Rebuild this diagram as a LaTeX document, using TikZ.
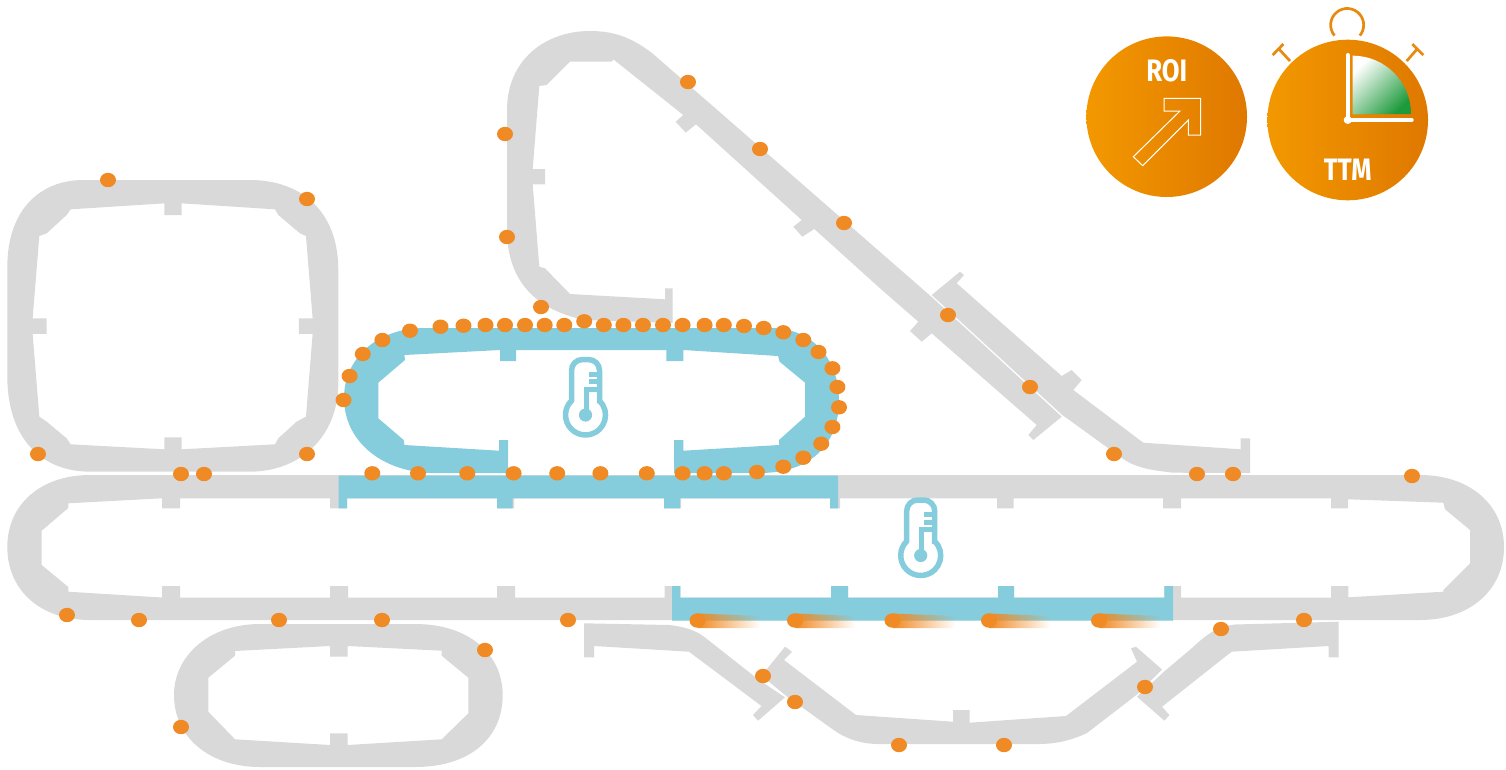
\documentclass[tikz,border=0pt]{standalone}
\usepackage{fontspec}
\setmainfont{Fira Sans}
\usetikzlibrary{fadings}
\definecolor{trackgray}{HTML}{D9D9D9}
\definecolor{heatblue}{HTML}{85CDDC}
\definecolor{dotorange}{HTML}{F08A24}
\definecolor{iconA}{HTML}{F39800}
\definecolor{iconB}{HTML}{DF7800}
\definecolor{iconLine}{HTML}{E98A10}
\definecolor{iconGreen}{HTML}{1E9A3C}
\tikzfading[name=cometfade,left color=transparent!0,middle color=transparent!35,right color=transparent!100]
\tikzset{
  track/.style={fill=trackgray,even odd rule,draw=none},
  heat/.style={fill=heatblue,even odd rule,draw=none},
  icontext/.style={text=white,font=\bfseries\fontsize{31}{31}\selectfont,inner sep=0pt,transform shape,xscale=.83},
  thermo/.pic={
    \draw[heatblue,line width=5.5pt]
      (14,-14.3) -- (14,-44.5) arc[start angle=0,end angle=90,radius=11pt] -- (-3,-55.5)
      arc[start angle=90,end angle=180,radius=11pt] -- (-14,-14.3)
      arc[start angle=134.5,delta angle=271,radius=20pt] -- cycle;
    \fill[heatblue] (0,0) circle[radius=6.6pt];
    \fill[heatblue] (-1.5,-28) rectangle (3,0);
    \fill[heatblue] (3,-43.5) rectangle (14,-38.5);
    \fill[heatblue] (3,-36) rectangle (14,-31);
    \fill[heatblue] (-1.5,-28.5) rectangle (14,-23.5);
  }
}
\newcommand{\dotat}[1]{\fill[dotorange] (#1) ellipse[x radius=8pt,y radius=7.2pt];}
\begin{document}
\begin{tikzpicture}[x=1pt,y=-1pt]
\useasboundingbox (0,0) rectangle (1506,769);
% square loop
\begin{scope}[shift={(0,170)},x=.3333pt,y=-.3333pt]
\fill[track] (250,30) -- (750,30) .. controls (900,30) and (1015,120) .. (1015,300) -- (1015,640)
  .. controls (1015,800) and (900,905) .. (750,905) -- (270,905)
  .. controls (120,905) and (22,800) .. (22,620) -- (22,290)
  .. controls (22,120) and (120,30) .. (250,30) -- cycle
  (212,118) -- (493,100) -- (493,135) -- (545,135) -- (545,100) -- (825,118) -- (835,135) -- (900,190) -- (918,198)
  -- (938,445) -- (897,445) -- (897,492) -- (938,492) -- (918,740) -- (890,755) -- (835,805) -- (825,823)
  -- (545,838) -- (545,802) -- (493,802) -- (493,838) -- (212,823) -- (200,805) -- (140,755) -- (118,740)
  -- (98,492) -- (140,492) -- (140,445) -- (98,445) -- (118,198) -- (140,190) -- (200,135) -- cycle;
\end{scope}
% upper track, long diagonal
\fill[track] (652,53) -- (931.7,297) -- (1061.7,416.7) -- (1033.3,440) -- (1028.3,435) -- (1036.7,425)
  -- (931.7,333.3) -- (921.7,341.7) -- (910,331) -- (918.3,321.7) -- (880,288.3) -- (814.3,229)
  -- (802.3,236.7) -- (793.3,226.7) -- (801.7,220) -- (696,124.3) -- (685.7,132.7) -- (675.7,121.7)
  -- (683.3,115) -- (613.3,59.3) -- (611.7,61.7) -- (570,61.7) -- (546.7,85) -- (539.3,86)
  -- (532.7,169) -- (545,169) -- (545,184.3) -- (532.7,184.3) -- (539.3,266.7) -- (545,268.3)
  -- (570,294) -- (665,299.3) -- (665,288.3) -- (672.7,288.3) -- (672.7,323) -- (585,320)
  .. controls (535,310) and (507,280) .. (507,230) -- (507,110)
  .. controls (507,60) and (545,31) .. (590,31) .. controls (615,31) and (632,38) .. (652,53) -- cycle;
% upper track, branch
\fill[track] (931.7,295) -- (960,271.7) -- (964,275) -- (956.7,283.3) -- (1061.7,376) -- (1071.7,370)
  -- (1081.7,380) -- (1073.3,390) -- (1143.3,442.7) -- (1240.7,449.3) -- (1240.7,438.3) -- (1250,438.3)
  -- (1250,473) -- (1173.3,472.7) .. controls (1150,470) and (1135,468) .. (1120,456.7)
  -- (1061.7,414.5) -- cycle;
% main loop
\fill[track] (90,475) -- (1420,475) .. controls (1470,475) and (1504,505) .. (1504,547)
  .. controls (1504,590) and (1470,620) .. (1420,620) -- (90,620)
  .. controls (40,620) and (7.3,590) .. (7.3,547) .. controls (7.3,505) and (40,475) .. (90,475) -- cycle
  (68.3,503.3) -- (162,498.3) -- (162,508.3) -- (180,508.3) -- (180,498.3) -- (330,498.3) -- (330,508.3) -- (347,508.3) -- (347,498.3)
  -- (497,498.3) -- (497,508.3) -- (514,508.3) -- (514,498.3) -- (664,498.3) -- (664,508.3) -- (681,508.3) -- (681,498.3)
  -- (830,498.3) -- (830,508.3) -- (840,508.3) -- (840,498.3) -- (997,498.3) -- (997,508.3) -- (1013.5,508.3) -- (1013.5,498.3)
  -- (1163,498.3) -- (1163,508.3) -- (1181,508.3) -- (1181,498.3) -- (1331,498.3) -- (1331,508.3) -- (1348,508.3) -- (1348,499.3)
  -- (1443.3,502.7) -- (1445,509.3) -- (1470,530) -- (1470,563.3) -- (1443.3,590) -- (1443.3,591.7)
  -- (1348.3,597.3) -- (1348.3,586) -- (1331,586) -- (1331,597.5) -- (1181,597.5) -- (1181,586) -- (1164.4,586) -- (1164.4,597.5)
  -- (1014,597.5) -- (1014,586) -- (998,586) -- (998,597.5) -- (848,597.5) -- (848,586) -- (831,586) -- (831,597.5)
  -- (680.4,597.5) -- (680.4,586) -- (664.5,586) -- (664.5,597.5) -- (515,597.5) -- (515,586) -- (497,586) -- (497,597.5)
  -- (348,597.5) -- (348,586) -- (330,586) -- (330,597.5) -- (180,597.5) -- (180,586) -- (162,586) -- (162,597.5)
  -- (68.3,591.7) -- (68.3,587) -- (41.7,565) -- (41.7,530.7) -- (68.3,508) -- cycle;
% lower-left loop
\fill[track] (260,624) -- (415,624) .. controls (470,624) and (502.7,655) .. (502.7,695)
  .. controls (502.7,738) and (470,767) .. (415,767) -- (260,767)
  .. controls (210,767) and (174,738) .. (174,695) .. controls (174,655) and (210,624) .. (260,624) -- cycle
  (235,651) -- (330,646) -- (330,656.7) -- (347.7,656.7) -- (347.7,646) -- (441.7,650.7) -- (441.7,655.7)
  -- (468.3,677.7) -- (468.3,713.3) -- (441.7,739.3) -- (347.7,745) -- (347.7,733.3) -- (330,733.3) -- (330,745)
  -- (235,739.3) -- (208.3,711.7) -- (208.3,677.7) -- (235,655.7) -- cycle;
% lower track, three pieces
\fill[track] (584,623.3) -- (669.5,625) .. controls (685,627) and (695,630) .. (704,636.7) -- (759,680) -- (785,697.3)
  -- (758,720.7) -- (753,715) -- (761.5,706) -- (689,651.7) -- (594,646) -- (594,657.3) -- (584,657.3) -- cycle;
\fill[track] (785,646.7) -- (792,651.7) -- (784,660) -- (856,715) -- (953,721.7) -- (953,710) -- (969.5,710) -- (969.5,722.7)
  -- (1066,716) -- (1137,661.7) -- (1131,648.3) -- (1136,646.7) -- (1162,669.5) -- (1137,694.5)
  -- (1087,733) .. controls (1070,741) and (1055,744) .. (1037.6,744) -- (878.4,744)
  .. controls (860,744) and (845,738) .. (833.6,730) -- (787,696.5) -- (761.5,675.7) -- cycle;
\fill[track] (1164,671.7) -- (1192,648) .. controls (1205,636) and (1215,627) .. (1235,624.5) -- (1338.5,621.7) -- (1338.5,657.3) -- (1328.6,657.3) -- (1328.6,646)
  -- (1231.6,651.7) -- (1162,706.7) -- (1169.4,715) -- (1164.4,720.7) -- (1137,696.7) -- cycle;
% heated sections
\fill[heat] (338.5,475.5) -- (838,475.5) -- (838,508.3) -- (830,508.3) -- (830,498.3) -- (680,498.3) -- (680,508.3) -- (664,508.3)
  -- (664,498.3) -- (512.5,498.3) -- (512.5,508.3) -- (497,508.3) -- (497,498.3) -- (347,498.3) -- (347,508.3) -- (338.5,508.3) -- cycle;
\fill[heat] (672,620.5) -- (1173,620.5) -- (1173,586) -- (1164.4,586) -- (1164.4,597.5) -- (1014,597.5) -- (1014,586) -- (998,586)
  -- (998,597.5) -- (848,597.5) -- (848,586) -- (831,586) -- (831,597.5) -- (680.4,597.5) -- (680.4,586) -- (672,586) -- cycle;
\fill[heat] (508,473) -- (430,473) .. controls (380,471) and (344,440) .. (344,398)
  .. controls (344,360) and (375,328) .. (425,328) -- (770,328)
  .. controls (815,328) and (839,362) .. (839,400) .. controls (839,445) and (810,473) .. (760,473) -- (674,473)
  -- (674,440) -- (683.3,440) -- (683.3,450.7) -- (779,445) -- (779,440) -- (805,416.7) -- (805,382.7) -- (779.6,361.7) -- (778,356)
  -- (683.3,350) -- (683.3,361) -- (666.4,361) -- (666.4,350) -- (516,350) -- (516,361) -- (500,361) -- (500,350)
  -- (404.4,355) -- (405,360) -- (378.3,382.7) -- (378.3,418.3) -- (403.7,440) -- (404.4,445) -- (499,450.7) -- (499,440) -- (508,440) -- cycle;
% thermometers
\pic at (585.5,415) {thermo};
\pic at (920.7,555.5) {thermo};
% comets
\foreach \cx/\cy in {697.5/760,795/855,892.5/955,989/1050,1099/1160}{
  \fill[dotorange,path fading=cometfade] (\cx,613.5) -- (\cy,616) -- (\cy,628) -- (\cx,628) -- cycle;
}
% workpieces
\foreach \px/\py in {108/180,307/199,38/454,307/454,181/474,204/474,505/134,507/237,688/82,760/149,844/223,948/315,1030/387,1114/454,1197/474,1233/474,1412/476,541/307,
  343.5/400,349.6/376,362.8/354,382.4/340,410/330.7,440.5/326.7,463.5/325.7,485.5/325,505/325,525/325,544.7/325,564.3/325,584.2/321.3,603.8/325,623.4/325,643/325,663/325,682.6/325,704.6/325,723.8/325,744/326,763.7/328,783.3/332.3,803.3/340,818.5/352,832.4/368.3,837.4/387,839/407.3,832.4/427,821.2/443.7,803.3/457.7,783.3/466.7,757/472,
  372.3/473.3,418/473.3,467.3/473.3,513.6/473.3,557.2/473.3,600.4/473.3,646.8/473.3,682.6/473.3,704.6/473.3,723.8/473.3,
  67/615,139/620,279/620,382/620,568/620,485/650,181/727,763/676,795/702,899/745,1004/745,1145/687,1221/629,1304/620,
  697.5/620.5,795/620.5,892.5/620.5,989/620.5,1099/620.5}{
  \dotat{\px,\py}
}
% ROI icon
\shade[left color=iconA,right color=iconB] (1166.7,116.7) circle[radius=80.3pt];
\node[icontext] (roi) at (1166.7,71) {ROI};
\draw[white,line width=1pt,line join=miter] (1200.7,98.3) -- (1164,98.3) -- (1164,111) -- (1180,111) -- (1133.3,156.7) -- (1142.7,165.7) -- (1188.3,120) -- (1188.3,135) -- (1200.7,135) -- cycle;
% TTM icon
\shade[left color=iconA,right color=iconB] (1347.7,120) circle[radius=80.3pt];
\draw[iconLine,line width=2.7pt] (1334.5,35.6) arc[start angle=220,end angle=-40,radius=16.5pt];
\draw[iconLine,line width=2.7pt] (1290,61) -- (1278,48) (1272.7,55) -- (1283.3,44);
\draw[iconLine,line width=2.7pt] (1406.7,61) -- (1418,48) (1412.3,44) -- (1423.3,55);
\shade[top color=white,bottom color=iconGreen,shading angle=45] (1352.7,114.3) -- (1352.7,55.7) arc[start angle=90,end angle=0,radius=58.3pt] -- cycle;
\draw[white,line width=4pt,line cap=round] (1347.7,55) -- (1347.7,120) -- (1411.7,120);
\fill[white] (1347.7,120) circle[radius=4pt];
\node[icontext] (ttm) at (1347.7,170) {TTM};
\end{tikzpicture}
\end{document}
